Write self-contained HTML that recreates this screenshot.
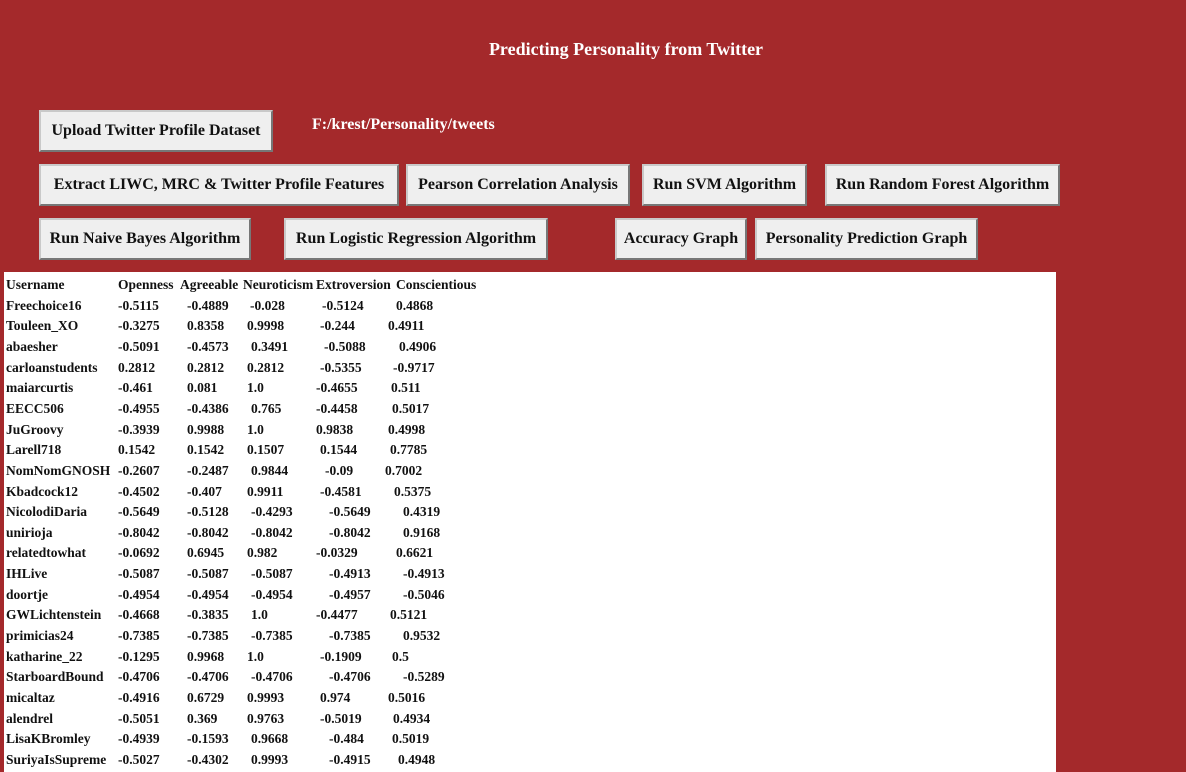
<!DOCTYPE html>
<html><head><style>
body{margin:0;width:1186px;height:768px;background:#a4292b;position:relative;overflow:hidden;font-family:"Liberation Serif",serif;font-weight:bold}
.t{position:absolute;left:0;width:1252px;top:39px;text-align:center;color:#fff;font-size:18px}
.b{position:absolute;background:#efefef;border:2px solid #c9c9c9;border-right-color:#777;border-bottom-color:#777;box-sizing:border-box;font-size:16px;color:#111;display:flex;align-items:center;justify-content:center;white-space:nowrap}
.p{position:absolute;left:4px;top:272px;width:1052px;height:500px;background:#fff}
.r{position:absolute;font-size:13.5px;color:#111;white-space:nowrap}
.r span{position:absolute}
</style></head><body>
<div class="t">Predicting Personality from Twitter</div>
<div class="b" style="left:39px;top:110px;width:234px;height:42px">Upload Twitter Profile Dataset</div>
<div style="position:absolute;left:312px;top:116px;color:#fff;font-size:16px">F:/krest/Personality/tweets</div>
<div class="b" style="left:39px;top:164px;width:360px;height:42px">Extract LIWC, MRC &amp; Twitter Profile Features</div>
<div class="b" style="left:406px;top:164px;width:224px;height:42px">Pearson Correlation Analysis</div>
<div class="b" style="left:642px;top:164px;width:165px;height:42px">Run SVM Algorithm</div>
<div class="b" style="left:825px;top:164px;width:235px;height:42px">Run Random Forest Algorithm</div>
<div class="b" style="left:39px;top:218px;width:212px;height:42px">Run Naive Bayes Algorithm</div>
<div class="b" style="left:284px;top:218px;width:264px;height:42px">Run Logistic Regression Algorithm</div>
<div class="b" style="left:615px;top:218px;width:132px;height:42px">Accuracy Graph</div>
<div class="b" style="left:755px;top:218px;width:223px;height:42px">Personality Prediction Graph</div>
<div class="p"></div>
<div id="tb"></div>
<script>
var rows=[
["Username","Openness","Agreeable","Neuroticism","Extroversion","Conscientious",[118,180,243,316,396]],
["Freechoice16","-0.5115","-0.4889","-0.028","-0.5124","0.4868",[118,187,250,322,396]],
["Touleen_XO","-0.3275","0.8358","0.9998","-0.244","0.4911",[118,187,247,320,388]],
["abaesher","-0.5091","-0.4573","0.3491","-0.5088","0.4906",[118,187,251,324,399]],
["carloanstudents","0.2812","0.2812","0.2812","-0.5355","-0.9717",[118,187,247,320,393]],
["maiarcurtis","-0.461","0.081","1.0","-0.4655","0.511",[118,187,247,316,391]],
["EECC506","-0.4955","-0.4386","0.765","-0.4458","0.5017",[118,187,251,316,392]],
["JuGroovy","-0.3939","0.9988","1.0","0.9838","0.4998",[118,187,247,316,388]],
["Larell718","0.1542","0.1542","0.1507","0.1544","0.7785",[118,187,247,320,390]],
["NomNomGNOSH","-0.2607","-0.2487","0.9844","-0.09","0.7002",[118,187,251,325,385]],
["Kbadcock12","-0.4502","-0.407","0.9911","-0.4581","0.5375",[118,187,247,320,394]],
["NicolodiDaria","-0.5649","-0.5128","-0.4293","-0.5649","0.4319",[118,187,251,329,403]],
["unirioja","-0.8042","-0.8042","-0.8042","-0.8042","0.9168",[118,187,251,329,403]],
["relatedtowhat","-0.0692","0.6945","0.982","-0.0329","0.6621",[118,187,247,316,396]],
["IHLive","-0.5087","-0.5087","-0.5087","-0.4913","-0.4913",[118,187,251,329,403]],
["doortje","-0.4954","-0.4954","-0.4954","-0.4957","-0.5046",[118,187,251,329,403]],
["GWLichtenstein","-0.4668","-0.3835","1.0","-0.4477","0.5121",[118,187,251,316,390]],
["primicias24","-0.7385","-0.7385","-0.7385","-0.7385","0.9532",[118,187,251,329,403]],
["katharine_22","-0.1295","0.9968","1.0","-0.1909","0.5",[118,187,247,320,392]],
["StarboardBound","-0.4706","-0.4706","-0.4706","-0.4706","-0.5289",[118,187,251,329,403]],
["micaltaz","-0.4916","0.6729","0.9993","0.974","0.5016",[118,187,247,320,388]],
["alendrel","-0.5051","0.369","0.9763","-0.5019","0.4934",[118,187,247,320,393]],
["LisaKBromley","-0.4939","-0.1593","0.9668","-0.484","0.5019",[118,187,251,329,392]],
["SuriyaIsSupreme","-0.5027","-0.4302","0.9993","-0.4915","0.4948",[118,187,251,329,398]]
];
var h="";
rows.forEach(function(r,i){
 var y=277+i*20.65;
 h+='<div class="r" style="top:'+y+'px;left:0"><span style="left:6px">'+r[0]+'</span>';
 for(var j=0;j<5;j++)h+='<span style="left:'+r[6][j]+'px">'+r[j+1]+'</span>';
 h+='</div>';
});
document.getElementById("tb").innerHTML=h;
</script>
</body></html>
